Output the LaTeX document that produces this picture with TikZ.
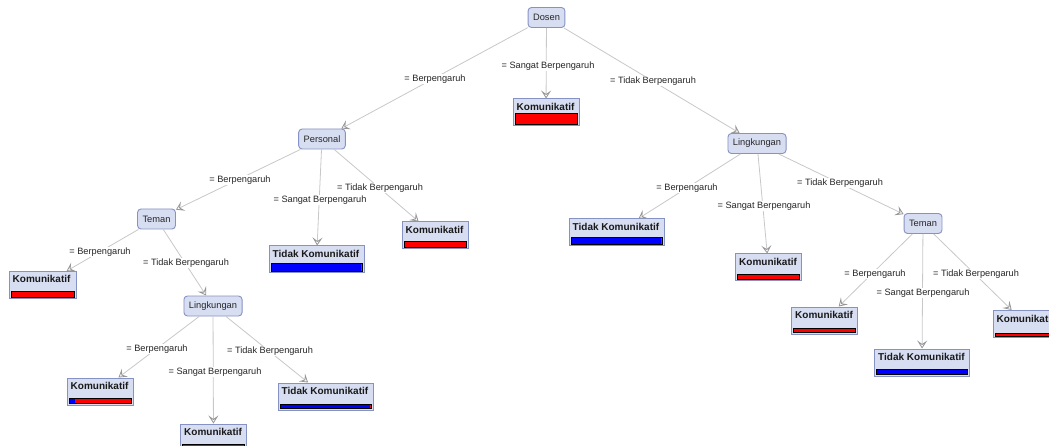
\documentclass[tikz,border=0pt]{standalone}
\usepackage{fontspec}
\setmainfont{Liberation Sans}
\usetikzlibrary{arrows.meta}
\definecolor{nodefill}{RGB}{216,222,242}
\definecolor{nodeborder}{RGB}{134,146,196}
\definecolor{edgegray}{RGB}{200,200,200}
\definecolor{arrowgray}{RGB}{150,150,150}
\tikzset{
  inner/.style={draw=nodeborder, fill=nodefill, rounded corners=3.5pt, line width=0.9pt,
    minimum height=20pt, inner xsep=5pt, inner ysep=0pt,
    font=\fontsize{9.3}{10}\selectfont, text=black!85},
  leafbox/.style={draw=nodeborder, fill=nodefill, line width=1pt, minimum height=27pt, inner sep=0pt},
  leaftitle/.style={anchor=base west, inner sep=0pt, font=\fontsize{10}{11}\bfseries\selectfont, text=black!90},
  lbl/.style={fill=white, inner sep=0.6pt, font=\fontsize{9.2}{10}\selectfont, text=black!85},
  conn/.style={draw=edgegray, line width=0.8pt,
    -{Stealth[open, length=8pt, width=10pt, inset=3.5pt, color=arrowgray, line width=0.8pt]}},
}
% name, x, y, width, title, bar height, blue fraction
\newcommand\leafnode[7]{%
  \node[leafbox, minimum width=#4pt] (#1) at (#2,#3) {};
  \node[leaftitle] (#1t) at ([shift={(4,12)}]#1.north west) {#5};
  \pgfmathsetmacro\bw{2.5+#7*(#4-5)}%
  \pgfmathsetmacro\bh{-2-#6}%
  \fill[red] ([shift={(2.5,-2)}]#1.south west) rectangle ([shift={(-2.5,\bh)}]#1.south east);
  \fill[blue] ([shift={(2.5,-2)}]#1.south west) rectangle ([shift={(\bw,\bh)}]#1.south west);
  \draw[black, line width=0.7pt] ([shift={(2.5,-2)}]#1.south west) rectangle ([shift={(-2.5,\bh)}]#1.south east);
}
\begin{document}
\begin{tikzpicture}[x=1pt,y=-1pt]
\useasboundingbox (0,0) rectangle (1049,446);
\fill[white] (0,0) rectangle (1049,446);
\clip (0,0) rectangle (1049,446);

% internal nodes
\node[inner] (dosen) at (546.5,17.5) {Dosen};
\node[inner] (personal) at (322,139) {Personal};
\node[inner] (lingR) at (757,143.5) {Lingkungan};
\node[inner] (temanL) at (156.5,219) {Teman};
\node[inner] (lingL) at (213,306) {Lingkungan};
\node[inner] (temanR) at (923,223.5) {Teman};

% leaves
\leafnode{komA}{546}{112.5}{66}{Komunikatif}{11}{0}
\leafnode{tkP}{316.5}{259.5}{95}{Tidak Komunikatif}{8}{1}
\leafnode{komP}{435}{235.5}{66}{Komunikatif}{6}{0}
\leafnode{komL}{42.5}{285}{67}{Komunikatif}{6}{0}
\leafnode{komLL}{100}{391.5}{66}{Komunikatif}{5.5}{0.1}
\leafnode{komLM}{213.5}{437.5}{66}{Komunikatif}{5}{0}
\leafnode{tkLR}{325.5}{396.5}{95}{Tidak Komunikatif}{4}{1}
\leafnode{tkR}{616.5}{232.5}{95}{Tidak Komunikatif}{7.3}{1}
\leafnode{komRM}{768.5}{267.5}{66}{Komunikatif}{5.3}{0}
\leafnode{komT1}{824.5}{320.5}{66}{Komunikatif}{4.5}{0}
\leafnode{tkT}{922}{362.5}{95}{Tidak Komunikatif}{5}{1}
\leafnode{komT3}{1026}{324}{66}{Komunikatif}{3}{0}

% connectors
\draw[conn] (dosen) -- (personal);
\draw[conn] (dosen) -- (komA);
\draw[conn] (dosen) -- (lingR);
\draw[conn] (personal) -- (temanL);
\draw[conn] (personal) -- (tkP);
\draw[conn] (personal) -- (komP);
\draw[conn] (temanL) -- (komL);
\draw[conn] (temanL) -- (lingL);
\draw[conn] (lingL) -- (komLL);
\draw[conn] (lingL) -- (komLM);
\draw[conn] (lingL) -- (tkLR);
\draw[conn] (lingR) -- (tkR);
\draw[conn] (lingR) -- (komRM);
\draw[conn] (lingR) -- (temanR);
\draw[conn] (temanR) -- (komT1);
\draw[conn] (temanR) -- (tkT);
\draw[conn] (temanR) -- (komT3);

% labels
\node[lbl] (l1) at (435,79) {= Berpengaruh};
\node[lbl] (l2) at (548,66) {= Sangat Berpengaruh};
\node[lbl] (l3) at (653,81) {= Tidak Berpengaruh};
\node[lbl] (l4) at (240,180) {= Berpengaruh};
\node[lbl] (l5) at (320,200) {= Sangat Berpengaruh};
\node[lbl] (l6) at (380,188) {= Tidak Berpengaruh};
\node[lbl] (l7) at (100,252) {= Berpengaruh};
\node[lbl] (l8) at (186,263) {= Tidak Berpengaruh};
\node[lbl] (l9) at (157,349) {= Berpengaruh};
\node[lbl] (l10) at (215,372) {= Sangat Berpengaruh};
\node[lbl] (l11) at (270,351) {= Tidak Berpengaruh};
\node[lbl] (l12) at (687,188) {= Berpengaruh};
\node[lbl] (l13) at (764,206) {= Sangat Berpengaruh};
\node[lbl] (l14) at (840,183) {= Tidak Berpengaruh};
\node[lbl] (l15) at (875,274) {= Berpengaruh};
\node[lbl] (l16) at (923,293) {= Sangat Berpengaruh};
\node[lbl] (l17) at (976,274) {= Tidak Berpengaruh};
\end{tikzpicture}
\end{document}
